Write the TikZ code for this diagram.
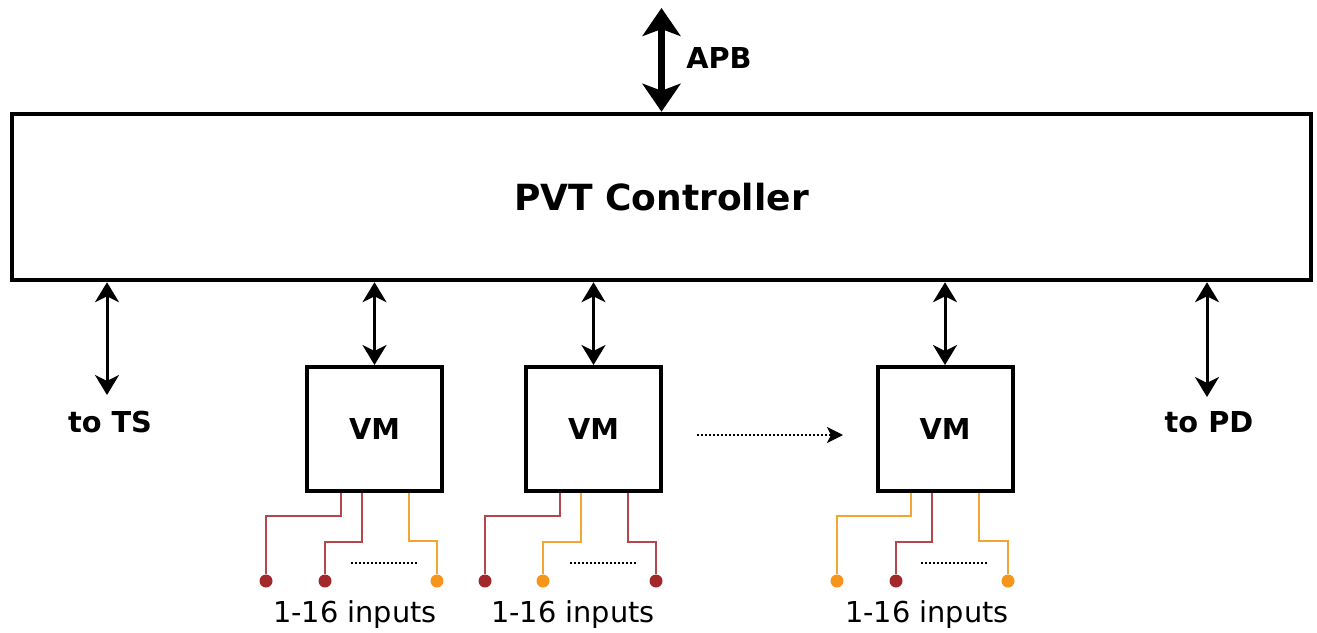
\documentclass[tikz,border=0pt]{standalone}
\usepackage{fontspec}
\setmainfont{DejaVu Sans}
\usepackage{xcolor}
\usepackage{tikz}
\usetikzlibrary{calc}
\usetikzlibrary{arrows.meta}

\definecolor{wirered}{HTML}{B5474B}
\definecolor{dotred}{HTML}{A3282B}
\definecolor{wireorange}{HTML}{F2A531}
\definecolor{dotorange}{HTML}{F5951C}

\begin{document}
\begin{tikzpicture}[x=0.5pt, y=-0.5pt,
		lbl/.style={font=\fontsize{14.4}{17}\selectfont\bfseries, inner sep=2pt},
		inlbl/.style={font=\fontsize{14.4}{17}\selectfont, inner sep=2pt},
		vmbox/.style={draw, line width=2pt, minimum width=67.5pt, minimum height=62pt, inner sep=0pt, font=\fontsize{14.4}{17}\selectfont\bfseries},
		link/.style={line width=1.5pt, {Stealth[length=10pt,width=12pt,inset=3pt]}-{Stealth[length=10pt,width=12pt,inset=3pt]}},
		bus/.style={line width=3.5pt, {Stealth[length=14pt,width=19pt,inset=3.5pt]}-{Stealth[length=14pt,width=19pt,inset=3.5pt]}},
		rw/.style={wirered, line width=1pt},
		ow/.style={wireorange, line width=1pt},
		rdot/.style={circle, fill=dotred, inner sep=0pt, minimum size=6.5pt},
		odot/.style={circle, fill=dotorange, inner sep=0pt, minimum size=6.5pt},
		more/.style={line width=1.1pt, dash pattern=on 1pt off 1pt}]
			\useasboundingbox (0,0) rectangle (1317,632);
			
			\node[draw, line width=2.25pt, minimum width=649.5pt, minimum height=83pt, font=\fontsize{18}{22}\selectfont\bfseries] (ctrl) at (661.5,197) {PVT Controller};
			\node[vmbox] (vm1) at (374.5,429) {VM};
			\node[vmbox] (vm2) at (593.5,429) {VM};
			\node[vmbox] (vm3) at (945,429) {VM};
			\node[lbl] (apb) at (719,58) {APB};
			\node[lbl] (ts) at (110,422) {to TS};
			\node[lbl] (pd) at (1209,422) {to PD};
			\node[inlbl] (in1) at (355,615) {1-16 inputs};
			\node[inlbl] (in2) at (573,615) {1-16 inputs};
			\node[inlbl] (in3) at (927,615) {1-16 inputs};
			\coordinate (apbend) at (661.5,8);
			\coordinate (tsend) at (107,395);
			\coordinate (pdend) at (1207,397);
			\coordinate (nexta) at (697,435);
			\coordinate (nextb) at (843,435);
			
			% Input pins
			\node[rdot] (d11) at (266,581) {};
			\node[rdot] (d12) at (325,581) {};
			\node[odot] (d13) at (437,581) {};
			\node[rdot] (d21) at (485,581) {};
			\node[odot] (d22) at (543,581) {};
			\node[rdot] (d23) at (656,581) {};
			\node[odot] (d31) at (837,581) {};
			\node[rdot] (d32) at (896,581) {};
			\node[odot] (d33) at (1008,581) {};
			
			% Draw arrows
			\draw[bus] (apbend) -- (ctrl.north);
			\draw[link] (ctrl.south -| tsend) -- (tsend);
			\draw[link] (ctrl.south -| pdend) -- (pdend);
			\draw[link] (ctrl.south -| vm1.north) -- (vm1.north);
			\draw[link] (ctrl.south -| vm2.north) -- (vm2.north);
			\draw[link] (ctrl.south -| vm3.north) -- (vm3.north);
			\draw[more, -{Stealth[length=8pt,width=8pt,inset=2pt,fill=black,line width=0.5pt]}] (nexta) -- (nextb);
			
			% Wires
			\draw[rw] ($(vm1.south)+(-34,0)$) -- ++(0,23) -| (d11);
			\draw[rw] ($(vm1.south)+(-13,0)$) -- ++(0,49) -| (d12);
			\draw[ow] ($(vm1.south)+(34,0)$) -- ++(0,48) -| (d13);
			\draw[more] ($(vm1.south)+(-24,70)$) -- ++(67,0);
			\draw[rw] ($(vm2.south)+(-34,0)$) -- ++(0,23) -| (d21);
			\draw[ow] ($(vm2.south)+(-13,0)$) -- ++(0,49) -| (d22);
			\draw[rw] ($(vm2.south)+(34,0)$) -- ++(0,49) -| (d23);
			\draw[more] ($(vm2.south)+(-24,70)$) -- ++(67,0);
			\draw[ow] ($(vm3.south)+(-34,0)$) -- ++(0,23) -| (d31);
			\draw[rw] ($(vm3.south)+(-13,0)$) -- ++(0,49) -| (d32);
			\draw[ow] ($(vm3.south)+(34,0)$) -- ++(0,48) -| (d33);
			\draw[more] ($(vm3.south)+(-24,70)$) -- ++(67,0);
		\end{tikzpicture}
\end{document}
